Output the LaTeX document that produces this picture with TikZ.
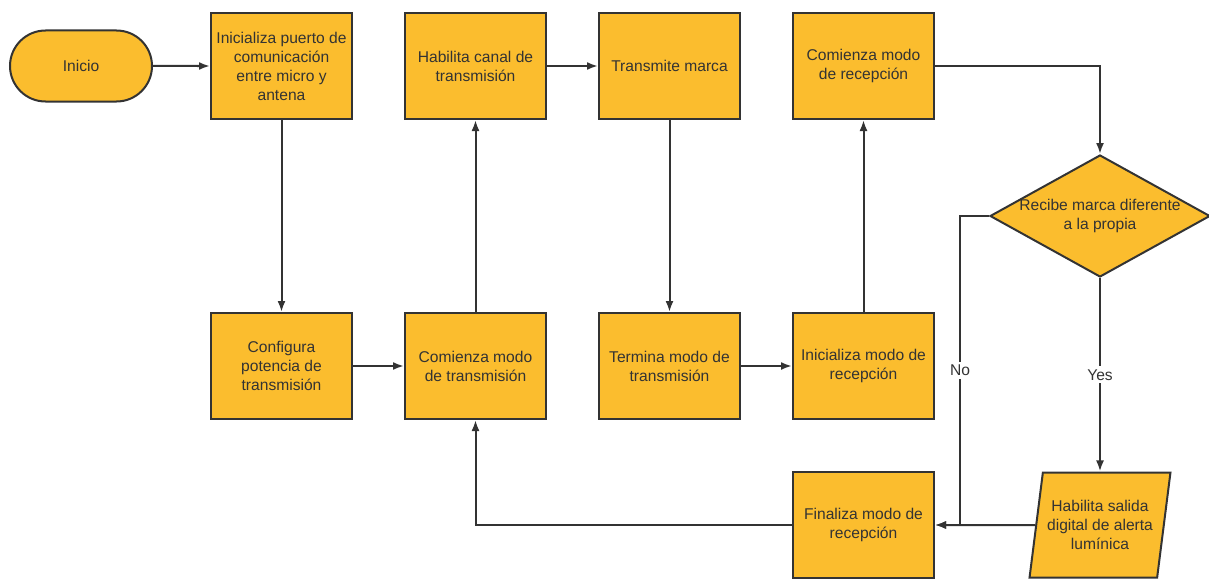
\documentclass[tikz,border=0pt]{standalone}
\usepackage{fontspec}
\setmainfont{Liberation Sans}
\usetikzlibrary{arrows.meta,shapes.geometric,shapes.misc}
\definecolor{caja}{RGB}{251,189,46}
\definecolor{linea}{RGB}{51,51,51}

\begin{document}
\begin{tikzpicture}[
		x=1pt,y=-1pt,
		every node/.style={font=\fontsize{15.6}{19}\selectfont,text=linea,align=center,inner sep=0pt},
		proceso/.style={draw=linea,line width=2pt,fill=caja,minimum width=141pt,minimum height=106pt},
		terminal/.style={proceso,rounded rectangle,minimum width=142pt,minimum height=71pt},
		decision/.style={draw=linea,line width=2pt,fill=caja,diamond,minimum width=220pt,minimum height=122pt},
		salida/.style={draw=linea,line width=2pt,fill=caja,trapezium,trapezium left angle=76,trapezium right angle=104,trapezium stretches=true,minimum width=141pt,minimum height=105pt},
		flecha/.style={draw=linea,line width=2pt,-{Latex[length=11pt,width=8pt]}},
		etiqueta/.style={fill=white,inner sep=3pt}
		]
		\useasboundingbox (0,0) rectangle (1209,578);
		\node[terminal] (inicio) at (81,66) {Inicio};
		\node[proceso] (puerto) at (281.5,66) {Inicializa puerto de\\comunicación\\entre micro y\\antena};
		\node[proceso] (habilita) at (475.5,66) {Habilita canal de\\transmisión};
		\node[proceso] (marca) at (669.5,66) {Transmite marca};
		\node[proceso] (comrec) at (863.5,66) {Comienza modo\\de recepción};
		\node[proceso] (configura) at (281.5,366) {Configura\\potencia de\\transmisión};
		\node[proceso] (comtrans) at (475.5,366) {Comienza modo\\de transmisión};
		\node[proceso] (termina) at (669.5,366) {Termina modo de\\transmisión};
		\node[proceso] (inirec) at (863.5,366) {Inicializa modo de\\recepción};
		\node[proceso] (finaliza) at (863.5,525) {Finaliza modo de\\recepción};
		\node[decision,label={center:{Recibe marca diferente\\a la propia}}] (recibe) at (1100,216) {};
		\node[salida] (alerta) at (1100,525) {Habilita salida\\digital de alerta\\lumínica};
		\coordinate (codo) at (960,216);

		\draw[flecha] (inicio) -- (puerto);
		\draw[flecha] (puerto) -- (configura);
		\draw[flecha] (configura) -- (comtrans);
		\draw[flecha] (comtrans) -- (habilita);
		\draw[flecha] (habilita) -- (marca);
		\draw[flecha] (marca) -- (termina);
		\draw[flecha] (termina) -- (inirec);
		\draw[flecha] (inirec) -- (comrec);
		\draw[flecha] (comrec) -| (recibe);
		\draw[flecha] (recibe) -- node[etiqueta] {Yes} (alerta);
		\draw[flecha] (recibe.west) -- (codo) |- node[pos=0.25,etiqueta] {No} (finaliza.east);
		\draw[flecha] (alerta) -- (finaliza);
		\draw[flecha] (finaliza) -| (comtrans);
\end{tikzpicture}
\end{document}
